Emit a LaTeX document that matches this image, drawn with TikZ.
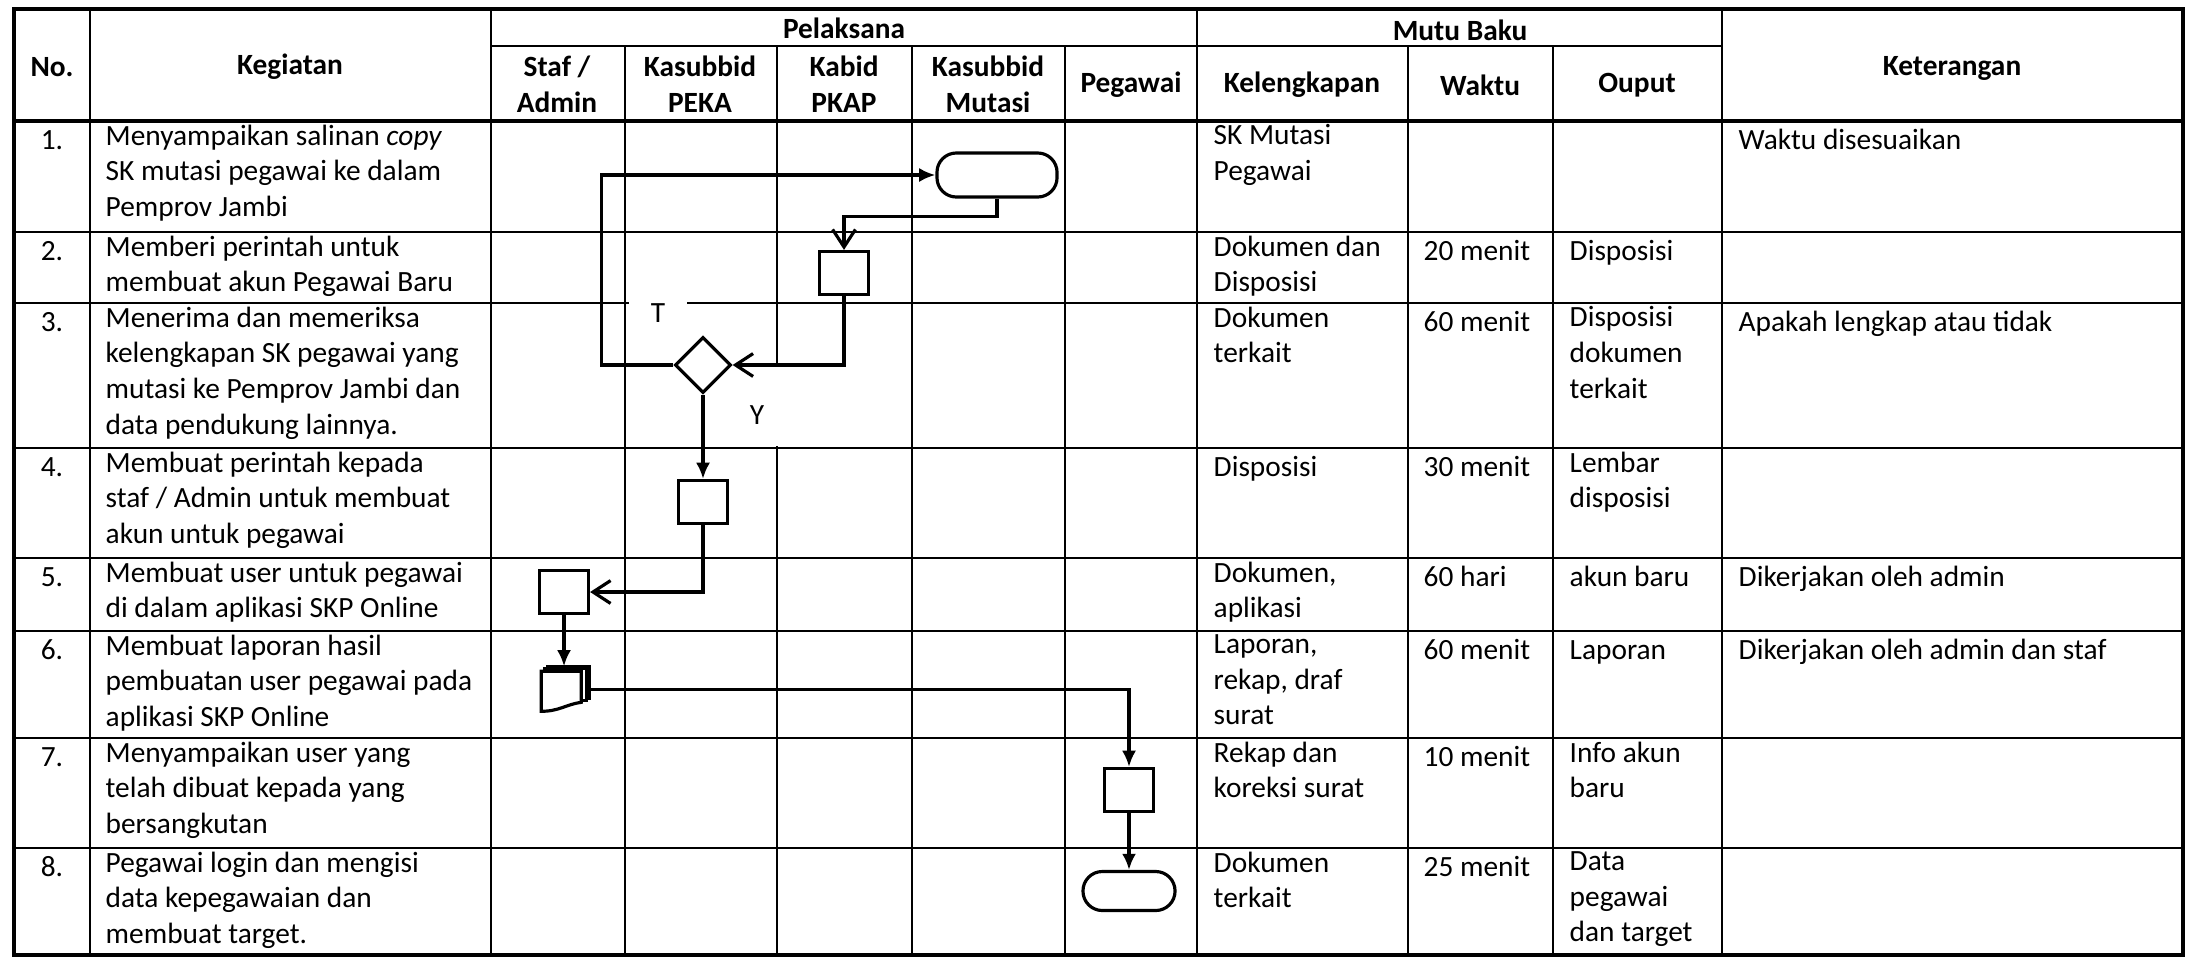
\documentclass[tikz,border=0pt]{standalone}
\usepackage{fontspec}
\setmainfont{Carlito}
\usetikzlibrary{arrows.meta,positioning,shapes.geometric}

\begin{document}
\begin{tikzpicture}[
  x=0.01cm, y=-0.01cm,
  font=\fontsize{8.35}{10.15}\selectfont,
  grid/.style={line width=0.4pt},
  rowline/.style={line width=0.55pt},
  frame/.style={line width=0.9pt},
  head/.style={font=\fontsize{8.35}{10.15}\selectfont\bfseries, align=center, inner sep=0pt},
  cell/.style={anchor=north west, align=left, inner sep=0pt, execute at begin node=\strut},
  num/.style={anchor=north, inner sep=0pt, execute at begin node=\strut},
  proc/.style={draw, line width=0.9pt, minimum width=0.49cm, minimum height=0.43cm, inner sep=0pt},
  term/.style={draw, line width=0.9pt, rounded corners=5.5pt, inner sep=0pt},
  decision/.style={draw, diamond, line width=0.9pt, minimum width=0.56cm, minimum height=0.56cm, inner sep=0pt},
  tag/.style={fill=white, inner sep=0pt, anchor=base},
  flow/.style={line width=0.9pt, -{Latex[length=4.6pt,width=4pt]}},
  flowopen/.style={line width=0.9pt, -{Straight Barb[length=5pt,width=6.5pt]}}
]
\useasboundingbox (0,0) rectangle (2189,957);

% table grid
\draw[frame] (14,9) rectangle (2183,955);
\draw[frame] (14,121) -- (2183,121);
\foreach \y in {232,303,448,558,631,738,848}
  \draw[rowline] (14,\y) -- (2183,\y);
\draw[grid] (491,46) -- (1722,46);
\foreach \x in {90,491,1197,1722}
  \draw[grid] (\x,9) -- (\x,955);
\foreach \x in {625,777,912,1065,1408,1553}
  \draw[grid] (\x,46) -- (\x,955);

% header
\node[head] (hno) at (52,67) {No.};
\node[head] (hkeg) at (290,67) {Kegiatan};
\node[head] (hpel) at (844,28) {Pelaksana};
\node[head] (hstaf) at (557,84) {Staf /\\Admin};
\node[head] (hpeka) at (700,84) {Kasubbid\\PEKA};
\node[head] (hpkap) at (844,84) {Kabid\\PKAP};
\node[head] (hmut) at (988,84) {Kasubbid\\Mutasi};
\node[head] (hpeg) at (1131,85) {Pegawai};
\node[head] (hmutu) at (1460,30) {Mutu Baku};
\node[head] (hkel) at (1302,85) {Kelengkapan};
\node[head] (hwak) at (1480,85) {Waktu};
\node[head] (hout) at (1637,85) {Ouput};
\node[head] (hket) at (1952,68) {Keterangan};

% rows
\node[num] (no1) at (52,124) {1.};
\node[cell] (keg1) at (105,124) {Menyampaikan salinan \textit{copy}\\SK mutasi pegawai ke dalam\\Pemprov Jambi};
\node[cell] (kel1) at (1213,124) {SK Mutasi\\Pegawai};
\node[cell] (ket1) at (1738,124) {Waktu disesuaikan};

\node[num] (no2) at (52,235) {2.};
\node[cell] (keg2) at (105,235) {Memberi perintah untuk\\membuat akun Pegawai Baru};
\node[cell] (kel2) at (1213,235) {Dokumen dan\\Disposisi};
\node[cell] (wak2) at (1423,235) {20 menit};
\node[cell] (out2) at (1569,235) {Disposisi};

\node[num] (no3) at (52,306) {3.};
\node[cell] (keg3) at (105,306) {Menerima dan memeriksa\\kelengkapan SK pegawai yang\\mutasi ke Pemprov Jambi dan\\data pendukung lainnya.};
\node[cell] (kel3) at (1213,306) {Dokumen\\terkait};
\node[cell] (wak3) at (1423,306) {60 menit};
\node[cell] (out3) at (1569,306) {Disposisi\\dokumen\\terkait};
\node[cell] (ket3) at (1738,306) {Apakah lengkap atau tidak};

\node[num] (no4) at (52,451) {4.};
\node[cell] (keg4) at (105,451) {Membuat perintah kepada\\staf / Admin untuk membuat\\akun untuk pegawai};
\node[cell] (kel4) at (1213,451) {Disposisi};
\node[cell] (wak4) at (1423,451) {30 menit};
\node[cell] (out4) at (1569,451) {Lembar\\disposisi};

\node[num] (no5) at (52,561) {5.};
\node[cell] (keg5) at (105,561) {Membuat user untuk pegawai\\di dalam aplikasi SKP Online};
\node[cell] (kel5) at (1213,561) {Dokumen,\\aplikasi};
\node[cell] (wak5) at (1423,561) {60 hari};
\node[cell] (out5) at (1569,561) {akun baru};
\node[cell] (ket5) at (1738,561) {Dikerjakan oleh admin};

\node[num] (no6) at (52,634) {6.};
\node[cell] (keg6) at (105,634) {Membuat laporan hasil\\pembuatan user pegawai pada\\aplikasi SKP Online};
\node[cell] (kel6) at (1213,634) {Laporan,\\rekap, draf\\surat};
\node[cell] (wak6) at (1423,634) {60 menit};
\node[cell] (out6) at (1569,634) {Laporan};
\node[cell] (ket6) at (1738,634) {Dikerjakan oleh admin dan staf};

\node[num] (no7) at (52,741) {7.};
\node[cell] (keg7) at (105,741) {Menyampaikan user yang\\telah dibuat kepada yang\\bersangkutan};
\node[cell] (kel7) at (1213,741) {Rekap dan\\koreksi surat};
\node[cell] (wak7) at (1423,741) {10 menit};
\node[cell] (out7) at (1569,741) {Info akun\\baru};

\node[num] (no8) at (52,851) {8.};
\node[cell] (keg8) at (105,851) {Pegawai login dan mengisi\\data kepegawaian dan\\membuat target.};
\node[cell] (kel8) at (1213,851) {Dokumen\\terkait};
\node[cell] (wak8) at (1423,851) {25 menit};
\node[cell] (out8) at (1569,851) {Data\\pegawai\\dan target};

% branch labels
\node[tag, minimum width=0.58cm, text height=0.32cm, text depth=0.18cm] (lblT) at (658,322) {T};
\node[tag, minimum width=0.45cm, text height=0.61cm, text depth=0.22cm] (lblY) at (757,424) {Y};

% flowchart
\node[term, minimum width=1.2cm, minimum height=0.44cm] (start) at (997,175) {};
\node[proc] (box2) at (844,273) {};
\node[decision] (dec) at (703,365) {};
\node[proc] (box4) at (703,502) {};
\node[proc] (box5) at (564,592) {};
\node[minimum width=0.48cm, minimum height=0.45cm, inner sep=0pt] (doc) at (566,689.5) {};
\node[proc] (box7) at (1129,790) {};
\node[term, minimum width=0.92cm, minimum height=0.39cm] (end) at (1129,891) {};

\begin{scope}[shift={(doc.north west)}, line width=0.9pt, fill=white]
  \filldraw (6,0) rectangle (48,32);
  \filldraw (3,2.5) rectangle (45,34.5);
  \filldraw (0,5) -- (40,5) -- (40,36) .. controls (25,38) and (18,45) .. (0,45) -- cycle;
\end{scope}

\draw[flowopen] (start.south) -- ++(0,18) -| (box2.north);
\draw[flowopen] (box2.south) |- (dec.east);
\draw[flow] (dec.west) -- ++(-72,0) |- (start.west);
\draw[flow] (dec.south) -- (box4.north);
\draw[flowopen] (box4.south) |- (box5.east);
\draw[flow] (box5.south) -- (box5.south |- doc.north);
\draw[flow] (doc.east) -| (box7.north);
\draw[flow] (box7.south) -- (end.north);
\end{tikzpicture}
\end{document}
